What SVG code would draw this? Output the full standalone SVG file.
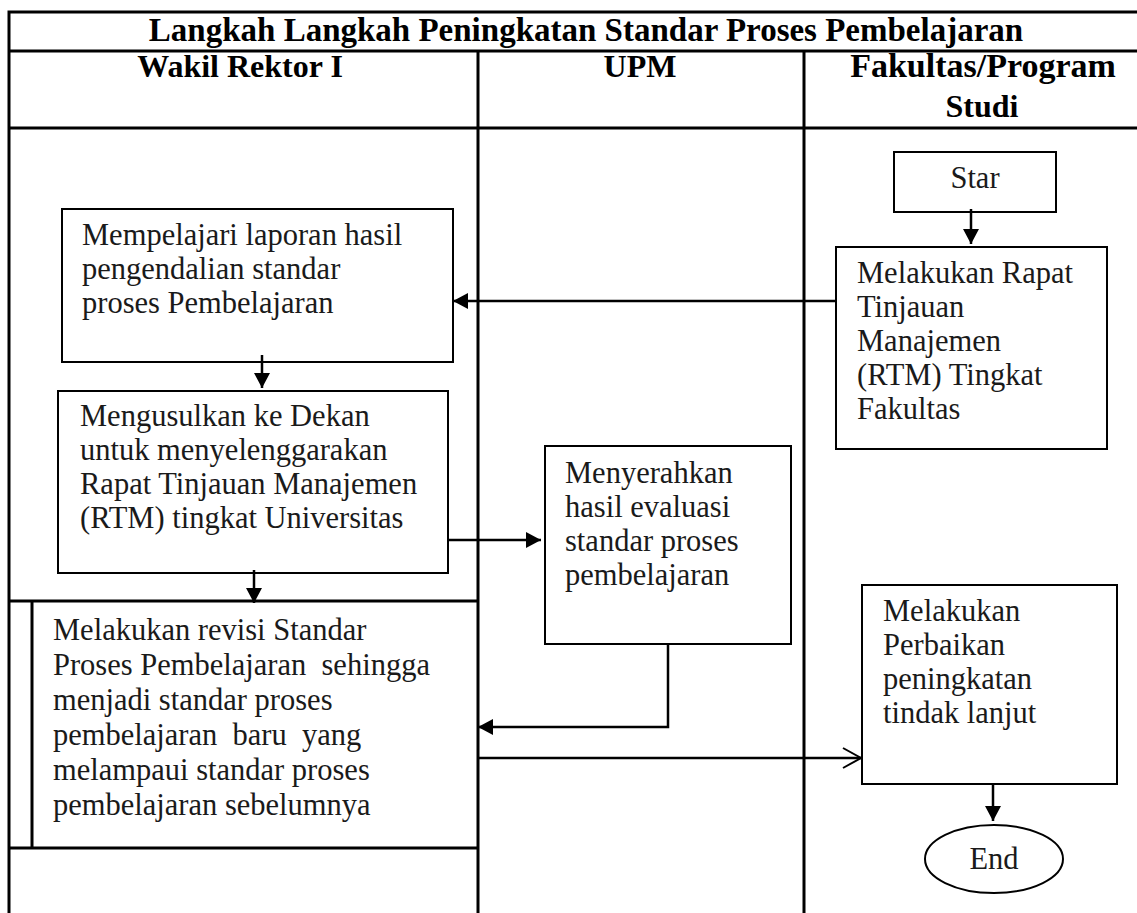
<svg xmlns="http://www.w3.org/2000/svg" width="1137" height="913" viewBox="0 0 1137 913">
<style>
.tbl{stroke:#000;stroke-width:3;fill:none}
.box{stroke:#000;stroke-width:2;fill:#fff}
.hd{font-family:"Liberation Serif",serif;font-weight:bold;font-size:32px;fill:#000;text-anchor:middle}
.tx{font-family:"Liberation Serif",serif;font-size:30.5px;fill:#1a1a1a;white-space:pre}
.c{text-anchor:middle}
.conn{stroke:#000;stroke-width:2.5;fill:none}
</style>
<defs>
<marker id="ah" markerUnits="userSpaceOnUse" markerWidth="16" markerHeight="16" refX="15" refY="8" orient="auto">
<path d="M0,0 L15,8 L0,16 z" fill="#000"/>
</marker>
<marker id="oh" markerUnits="userSpaceOnUse" markerWidth="22" markerHeight="24" refX="19" refY="11" orient="auto">
<path d="M1,1 L19,11 L1,21" fill="none" stroke="#000" stroke-width="2"/>
</marker>
</defs>
<rect width="1137" height="913" fill="#fff"/>
<g id="table">
<path class="tbl" d="M9,913 V12 H1137 M9,51 H1137 M9,128 H1137 M478,51 V913 M804,51 V913 M9,601 H478 M9,848 H478 M32,601 V848"/>
<text class="hd" x="586" y="41" style="font-size:33px">Langkah Langkah Peningkatan Standar Proses Pembelajaran</text>
<text class="hd" x="240" y="77">Wakil Rektor I</text>
<text class="hd" x="640" y="77">UPM</text>
<text class="hd" x="983" y="77" style="font-size:34px">Fakultas/Program</text>
<text class="hd" x="982" y="117">Studi</text>
</g>
<g id="start">
<rect class="box" x="894" y="152" width="162" height="60"/>
<text class="tx c" x="975" y="188">Star</text>
</g>
<g id="rtm-fakultas">
<rect class="box" x="836" y="247" width="271" height="202"/>
<text class="tx" x="857" y="283">Melakukan Rapat</text>
<text class="tx" x="857" y="317">Tinjauan</text>
<text class="tx" x="857" y="351">Manajemen</text>
<text class="tx" x="857" y="385">(RTM) Tingkat</text>
<text class="tx" x="857" y="419">Fakultas</text>
</g>
<g id="mempelajari">
<rect class="box" x="62" y="209" width="391" height="153"/>
<text class="tx" x="82" y="245">Mempelajari laporan hasil</text>
<text class="tx" x="82" y="279">pengendalian standar</text>
<text class="tx" x="82" y="313">proses Pembelajaran</text>
</g>
<g id="mengusulkan">
<rect class="box" x="58" y="391" width="390" height="182"/>
<text class="tx" x="80" y="426">Mengusulkan ke Dekan</text>
<text class="tx" x="80" y="460">untuk menyelenggarakan</text>
<text class="tx" x="80" y="494">Rapat Tinjauan Manajemen</text>
<text class="tx" x="80" y="528">(RTM) tingkat Universitas</text>
</g>
<g id="menyerahkan">
<rect class="box" x="545" y="446" width="246" height="198"/>
<text class="tx" x="565" y="483">Menyerahkan</text>
<text class="tx" x="565" y="517">hasil evaluasi</text>
<text class="tx" x="565" y="551">standar proses</text>
<text class="tx" x="565" y="585">pembelajaran</text>
</g>
<g id="revisi">
<text class="tx" x="53" y="640">Melakukan revisi Standar</text>
<text class="tx" x="53" y="675">Proses Pembelajaran  sehingga</text>
<text class="tx" x="53" y="710">menjadi standar proses</text>
<text class="tx" x="53" y="745">pembelajaran  baru  yang</text>
<text class="tx" x="53" y="780">melampaui standar proses</text>
<text class="tx" x="53" y="815">pembelajaran sebelumnya</text>
</g>
<g id="perbaikan">
<rect class="box" x="862" y="585" width="255" height="199"/>
<text class="tx" x="883" y="621">Melakukan</text>
<text class="tx" x="883" y="655">Perbaikan</text>
<text class="tx" x="883" y="689">peningkatan</text>
<text class="tx" x="883" y="723">tindak lanjut</text>
</g>
<g id="end">
<ellipse class="box" cx="994" cy="859" rx="69" ry="34"/>
<text class="tx c" x="994" y="869">End</text>
</g>
<g id="connectors">
<path class="conn" d="M971,209 V244" marker-end="url(#ah)"/>
<path class="conn" d="M836,301 H453" marker-end="url(#ah)"/>
<path class="conn" d="M262,355 V388" marker-end="url(#ah)"/>
<path class="conn" d="M254,570 V603" marker-end="url(#ah)"/>
<path class="conn" d="M448,540 H541" marker-end="url(#ah)"/>
<path class="conn" d="M668,644 V727 H478" marker-end="url(#ah)"/>
<path class="conn" d="M478,758 H861" marker-end="url(#oh)"/>
<path class="conn" d="M993,784 V821" marker-end="url(#ah)"/>
</g>
</svg>
